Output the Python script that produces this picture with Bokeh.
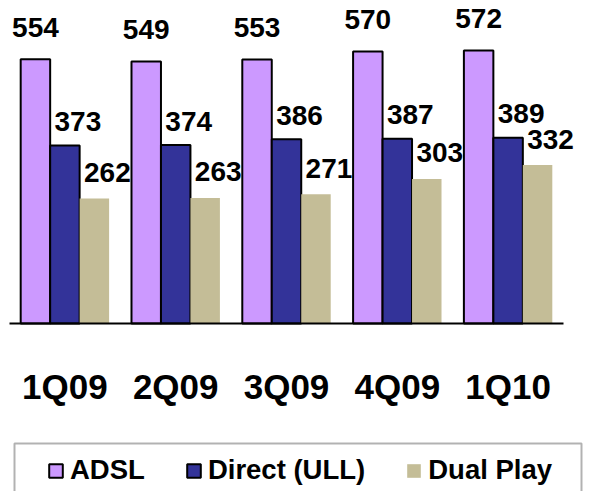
import numpy as np
from bokeh.plotting import figure
from bokeh.models import (Range1d, LinearAxis, FixedTicker, Legend, LegendItem,
                          BoxAnnotation, ColumnDataSource)
from bokeh.core.properties import value
from bokeh.embed import file_html
from bokeh.resources import INLINE

# ---- data ----
quarters = ["1Q09", "2Q09", "3Q09", "4Q09", "1Q10"]
adsl = [554, 549, 553, 570, 572]
direct_ull = [373, 374, 386, 387, 389]
dual_play = [262, 263, 271, 303, 332]
series_names = ["ADSL", "Direct (ULL)", "Dual Play"]

# ---- styles ----
colors = ["#CC99FF", "#333399", "#C4BD97"]
outline = ["black", "black", None]
bar_w = 0.266
dodge = [-bar_w, 0.0, bar_w]
lab_dx = [0, 13, 13]
lab_dy = [-32, -24, -26]
FONT = "Liberation Sans"

W, H = 589, 491
px_x = 110.8
px_y = 0.4772
x0_px, y0_px = 9, 323

p = figure(width=W, height=H, output_backend="svg", toolbar_location=None,
           x_axis_location=None, y_axis_location=None,
           x_range=Range1d(-x0_px / px_x, 5 + (W - 563) / px_x),
           y_range=Range1d(-(H - y0_px) / px_y, y0_px / px_y),
           min_border=0, outline_line_color=None)
p.grid.visible = False
p.background_fill_color = "white"
p.border_fill_color = "white"

centers = np.arange(len(quarters)) + 0.5
renderers = []
for vals, c, oc, dx, ldx, ldy in zip([adsl, direct_ull, dual_play], colors, outline,
                                     dodge, lab_dx, lab_dy):
    src = ColumnDataSource(dict(x=centers + dx, top=vals,
                                lab=[str(v) for v in vals]))
    r = p.vbar(x="x", top="top", bottom=0, width=bar_w, source=src,
               fill_color=c, line_color=oc, line_width=2 if oc else 0)
    renderers.append(r)
    p.text(x="x", y="top", text="lab", source=src, x_offset=ldx, y_offset=ldy,
           text_font=value(FONT), text_font_style="bold", text_font_size="28px",
           text_align="center", text_baseline="middle", text_color="black")

ax = LinearAxis(fixed_location=0, bounds=(0, 5))
ax.ticker = FixedTicker(ticks=list(centers))
ax.major_label_overrides = {float(c): q for c, q in zip(centers, quarters)}
ax.major_tick_line_color = None
ax.minor_tick_line_color = None
ax.axis_line_color = "black"
ax.axis_line_width = 2
ax.major_label_standoff = 37
ax.major_label_text_font = FONT
ax.major_label_text_font_style = "bold"
ax.major_label_text_font_size = "35px"
ax.major_label_text_color = "black"
p.add_layout(ax, "below")

legend = Legend(items=[LegendItem(label=n, renderers=[r]) for n, r in zip(series_names, renderers)],
                orientation="horizontal", location=(47, 5),
                glyph_width=17, glyph_height=17, label_standoff=6, spacing=40,
                padding=0, margin=0, border_line_color=None, background_fill_alpha=0,
                label_text_font=FONT, label_text_font_style="bold",
                label_text_font_size="27.5px", label_text_color="black")
p.add_layout(legend, "center")

box = BoxAnnotation(left=14, right=581, top=48, bottom=-20,
                    left_units="screen", right_units="screen",
                    top_units="screen", bottom_units="screen",
                    fill_alpha=0, fill_color=None, line_color="black", line_width=2)
p.add_layout(box)

open("out.html", "w").write(file_html(p, INLINE))
